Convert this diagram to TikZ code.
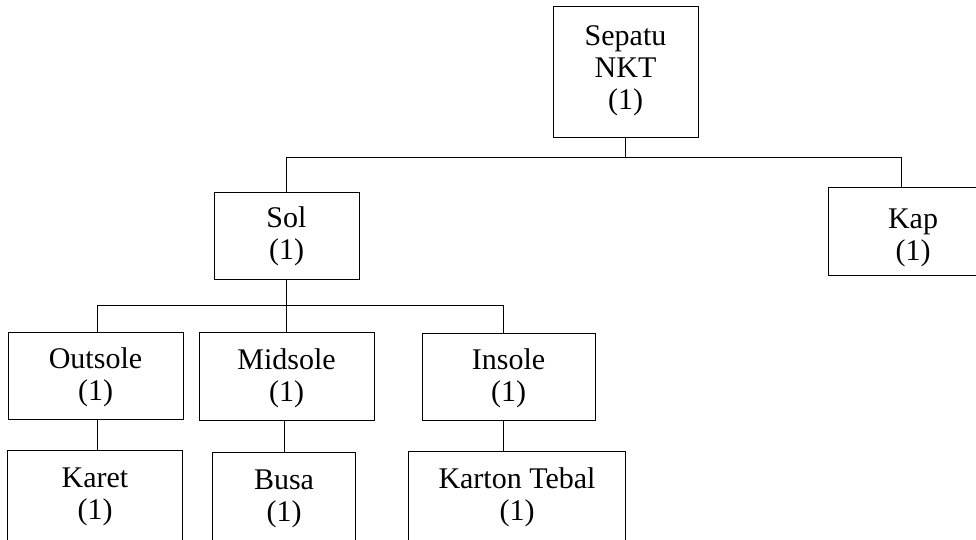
\documentclass[tikz,border=0pt]{standalone}
\usepackage{fontspec}
\setmainfont{Liberation Serif}
\usetikzlibrary{calc}
\newcommand\lowtext[2]{\raisebox{-#1}[\height][\depth]{\begin{tabular}{@{}c@{}}#2\end{tabular}}}
\begin{document}
\begin{tikzpicture}[x=1pt,y=-1pt,line width=1pt,
  box/.style={draw,rectangle,inner sep=0pt,align=center,
    font=\fontsize{30}{32}\selectfont},
  openbox/.style={rectangle,inner sep=0pt,align=center,
    font=\fontsize{30}{32}\selectfont},
  link/.style={draw,line width=1pt}]
\useasboundingbox (0,0) rectangle (976,539);
% nodes
\node[box,minimum width=145pt,minimum height=131pt] (top) at (625.5,71.5) {\lowtext{0pt}{Sepatu\\NKT\\(1)}};
\node[box,minimum width=145pt,minimum height=87pt] (sol) at (286.5,235.5) {\lowtext{2pt}{Sol\\(1)}};
\node[box,minimum width=170pt,minimum height=88pt] (kap) at (913,231) {\lowtext{7pt}{Kap\\(1)}};
\node[box,minimum width=175pt,minimum height=87pt] (outsole) at (95.5,375.5) {\lowtext{3pt}{Outsole\\(1)}};
\node[box,minimum width=175pt,minimum height=88pt] (midsole) at (286.5,376) {\lowtext{3pt}{Midsole\\(1)}};
\node[box,minimum width=173pt,minimum height=87pt] (insole) at (508.5,376.5) {\lowtext{3pt}{Insole\\(1)}};
\node[openbox,minimum width=174pt,minimum height=87pt] (karet) at (95,494.5) {\lowtext{3pt}{Karet\\(1)}};
\node[openbox,minimum width=142pt,minimum height=87pt] (busa) at (284,496.5) {\lowtext{3pt}{Busa\\(1)}};
\node[openbox,minimum width=216pt,minimum height=87pt] (karton) at (517,495.5) {\lowtext{3pt}{Karton Tebal\\(1)}};
\draw ($(karet.north west)+(0,-120pt)$) |- (karet.north east) -- ++(0,-120pt);
\draw ($(busa.north west)+(0,-120pt)$) |- (busa.north east) -- ++(0,-120pt);
\draw ($(karton.north west)+(0,-120pt)$) |- (karton.north east) -- ++(0,-120pt);
% level 1 connectors
\coordinate (h1) at (625,157);
\coordinate (hk) at (901,157);
\draw[link] (top.south) -- (top.south |- h1);
\draw[link] (sol.north |- h1) -- (hk);
\draw[link] (sol.north |- h1) -- (sol.north);
\draw[link] (hk) -- (hk |- kap.north);
% level 2 connectors
\coordinate (h2a) at (97,305);
\coordinate (h2b) at (286.5,305);
\coordinate (h2c) at (503,305);
\draw[link] (sol.south) -- (h2b);
\draw[link] (h2a) -- (h2c);
\draw[link] (h2a) -- (h2a |- outsole.north);
\draw[link] (h2b) -- (midsole.north);
\draw[link] (h2c) -- (h2c |- insole.north);
% level 3 connectors
\draw[link] (h2a |- outsole.south) -- (h2a |- karet.north);
\draw[link] (busa.north |- midsole.south) -- (busa.north);
\draw[link] (h2c |- insole.south) -- (h2c |- karton.north);
\end{tikzpicture}
\end{document}
